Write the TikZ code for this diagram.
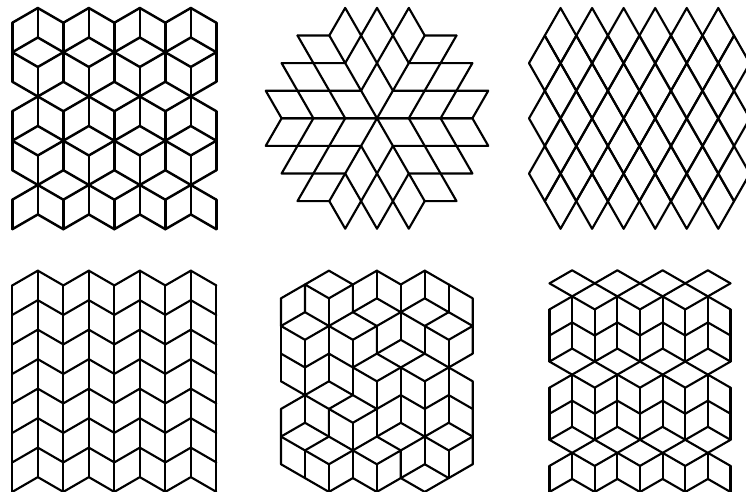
\documentclass[tikz,border=0pt]{standalone}
\newcommand\zigrow[2]{\draw[tile] (0,#1) -- (1,#2) -- (2,#1) -- (3,#2) -- (4,#1) -- (5,#2) -- (6,#1) -- (7,#2) -- (8,#1);}
\newcommand\evencols[2]{\foreach \c in {0,2,4,6,8} {\draw[tile] (\c,#1) -- (\c,#2);}}
\newcommand\oddcols[2]{\foreach \c in {1,3,5,7} {\draw[tile] (\c,#1) -- (\c,#2);}}
\tikzset{tile/.style={draw=black,line width=1.6pt,line join=round,line cap=round}}
\begin{document}
\begin{tikzpicture}[x=0.75pt,y=-0.75pt]
\useasboundingbox (0,0) rectangle (746,492);
\fill[white] (0,0) rectangle (746,492);
\clip (0,0) rectangle (746,492);
% panel 1
\begin{scope}[shift={(12.33,8)},x=19.125pt,y=-11.06pt,tile/.append style={line width=1.85pt}]
\zigrow{1}{0}\zigrow{3}{2}\zigrow{3}{4}\zigrow{5}{6}\zigrow{7}{6}\zigrow{9}{8}\zigrow{9}{10}\zigrow{11}{12}\zigrow{13}{12}\zigrow{15}{14}
\evencols{1}{5}\oddcols{0}{2}\oddcols{4}{8}\evencols{7}{11}\oddcols{10}{14}\evencols{13}{15}
\end{scope}
% panel 2
\begin{scope}[shift={(377,118.3)},x=11.925pt,y=-20.7pt]
\foreach \sx in {1,-1} {\foreach \sy in {1,-1} {
\begin{scope}[xscale=\sx,yscale=\sy]
\draw[tile] (-5,-3) -- (-3,-3) -- (-2,-4) -- (1,-1);
\draw[tile] (-3,-3) -- (0,0) -- (-6,0) -- (-7,-1) -- (-1,-1);
\draw[tile] (0,-4) -- (-2,-2) -- (-6,-2) -- (-4,0);
\draw[tile] (-5,-3) -- (-2,0);
\end{scope}}}
\end{scope}
% panel 3
\begin{scope}[shift={(529,8)},x=11.83pt,y=-20.7pt]
\foreach \c in {2,4,...,12} {\foreach \r in {1,3,5,7} {\draw[tile] (\c-1,\r) -- (\c,\r-1) -- (\c+1,\r) -- (\c,\r+1) -- cycle;}}
\foreach \c in {1,3,...,13} {\foreach \r in {2,4,6} {\draw[tile] (\c-1,\r) -- (\c,\r-1) -- (\c+1,\r) -- (\c,\r+1) -- cycle;}}
\end{scope}
% panel 4
\begin{scope}[shift={(12.33,270.67)},x=19.125pt,y=-11.06pt]
\foreach \r in {0,2,...,14} {\pgfmathtruncatemacro\q{\r+1}\zigrow{\q}{\r}}
\evencols{1}{15}\oddcols{0}{14}
\end{scope}
% panel 5
\begin{scope}[shift={(281,270.67)},x=17.97pt,y=-10.37pt]
\draw[tile] (1,1)--(2,0)--(3,1)--(2,2)--cycle;
\draw[tile] (0,4)--(0,2)--(1,1)--(1,3);
\draw[tile] (2,2)--(2,8);
\draw[tile] (3,3)--(3,1)--(4,0)--(5,1)--(6,0)--(7,1)--(8,2)--(8,6);
\draw[tile] (4,0)--(4,2);\draw[tile] (6,0)--(6,2);\draw[tile] (5,1)--(5,5);\draw[tile] (7,1)--(7,3);
\draw[tile] (2,4)--(3,3)--(4,2)--(5,3)--(6,2)--(7,3)--(8,4)--(7,5)--(6,4)--(5,3)--(4,4)--(3,5)--(2,4)--(1,3)--(0,4)--(1,5)--(2,4);
\draw[tile] (3,3)--(4,4)--(4,6);\draw[tile] (6,4)--(7,3);\draw[tile] (6,4)--(6,6);\draw[tile] (7,5)--(7,9);
\draw[tile] (3,5)--(3,9);\draw[tile] (0,4)--(0,8);\draw[tile] (1,5)--(1,11);
\draw[tile] (3,7)--(4,6)--(5,5)--(6,6)--(7,7)--(8,6);
\draw[tile] (4,6)--(5,7)--(6,6);\draw[tile] (3,7)--(4,8)--(5,7)--(6,8)--(7,7)--(8,8)--(8,14);
\draw[tile] (3,7)--(2,6)--(1,7)--(0,6);
\draw[tile] (5,7)--(5,11);\draw[tile] (4,8)--(4,12);\draw[tile] (6,8)--(6,14);
\draw[tile] (0,8)--(1,9)--(2,8)--(3,9)--(4,10)--(3,11)--(2,10)--(1,9)--(0,10)--(0,14)--(1,15)--(2,16)--(3,15)--(4,16)--(5,15)--(6,16)--(7,15)--(8,14);
\draw[tile] (3,9)--(2,10)--(2,12);
\draw[tile] (4,10)--(5,9)--(6,10)--(7,9)--(8,10);
\draw[tile] (3,11)--(3,15);\draw[tile] (7,9)--(7,11);
\draw[tile] (0,12)--(1,11)--(2,12)--(3,13)--(4,12)--(5,11)--(6,12)--(7,11)--(8,12)--(7,13)--(6,12)--(5,13)--(4,12);
\draw[tile] (0,12)--(1,13)--(2,12);\draw[tile] (1,13)--(2,14)--(3,13)--(4,14)--(5,13)--(5,15)--(6,14)--(7,15);
\draw[tile] (1,13)--(1,15);\draw[tile] (2,14)--(2,16);\draw[tile] (4,14)--(4,16);\draw[tile] (7,13)--(7,15);
\end{scope}
% panel 6
\begin{scope}[shift={(549.5,270.3)},x=16.97pt,y=-9.78pt]
\zigrow{1}{0}\zigrow{1}{2}\zigrow{3}{2}\zigrow{5}{4}\zigrow{7}{6}\zigrow{7}{8}\zigrow{9}{8}\zigrow{11}{10}\zigrow{13}{12}\zigrow{13}{14}\zigrow{15}{14}\zigrow{17}{16}
\evencols{3}{7}\oddcols{2}{6}\evencols{9}{13}\oddcols{8}{12}\evencols{15}{17}\oddcols{14}{16}
\end{scope}
\end{tikzpicture}
\end{document}
